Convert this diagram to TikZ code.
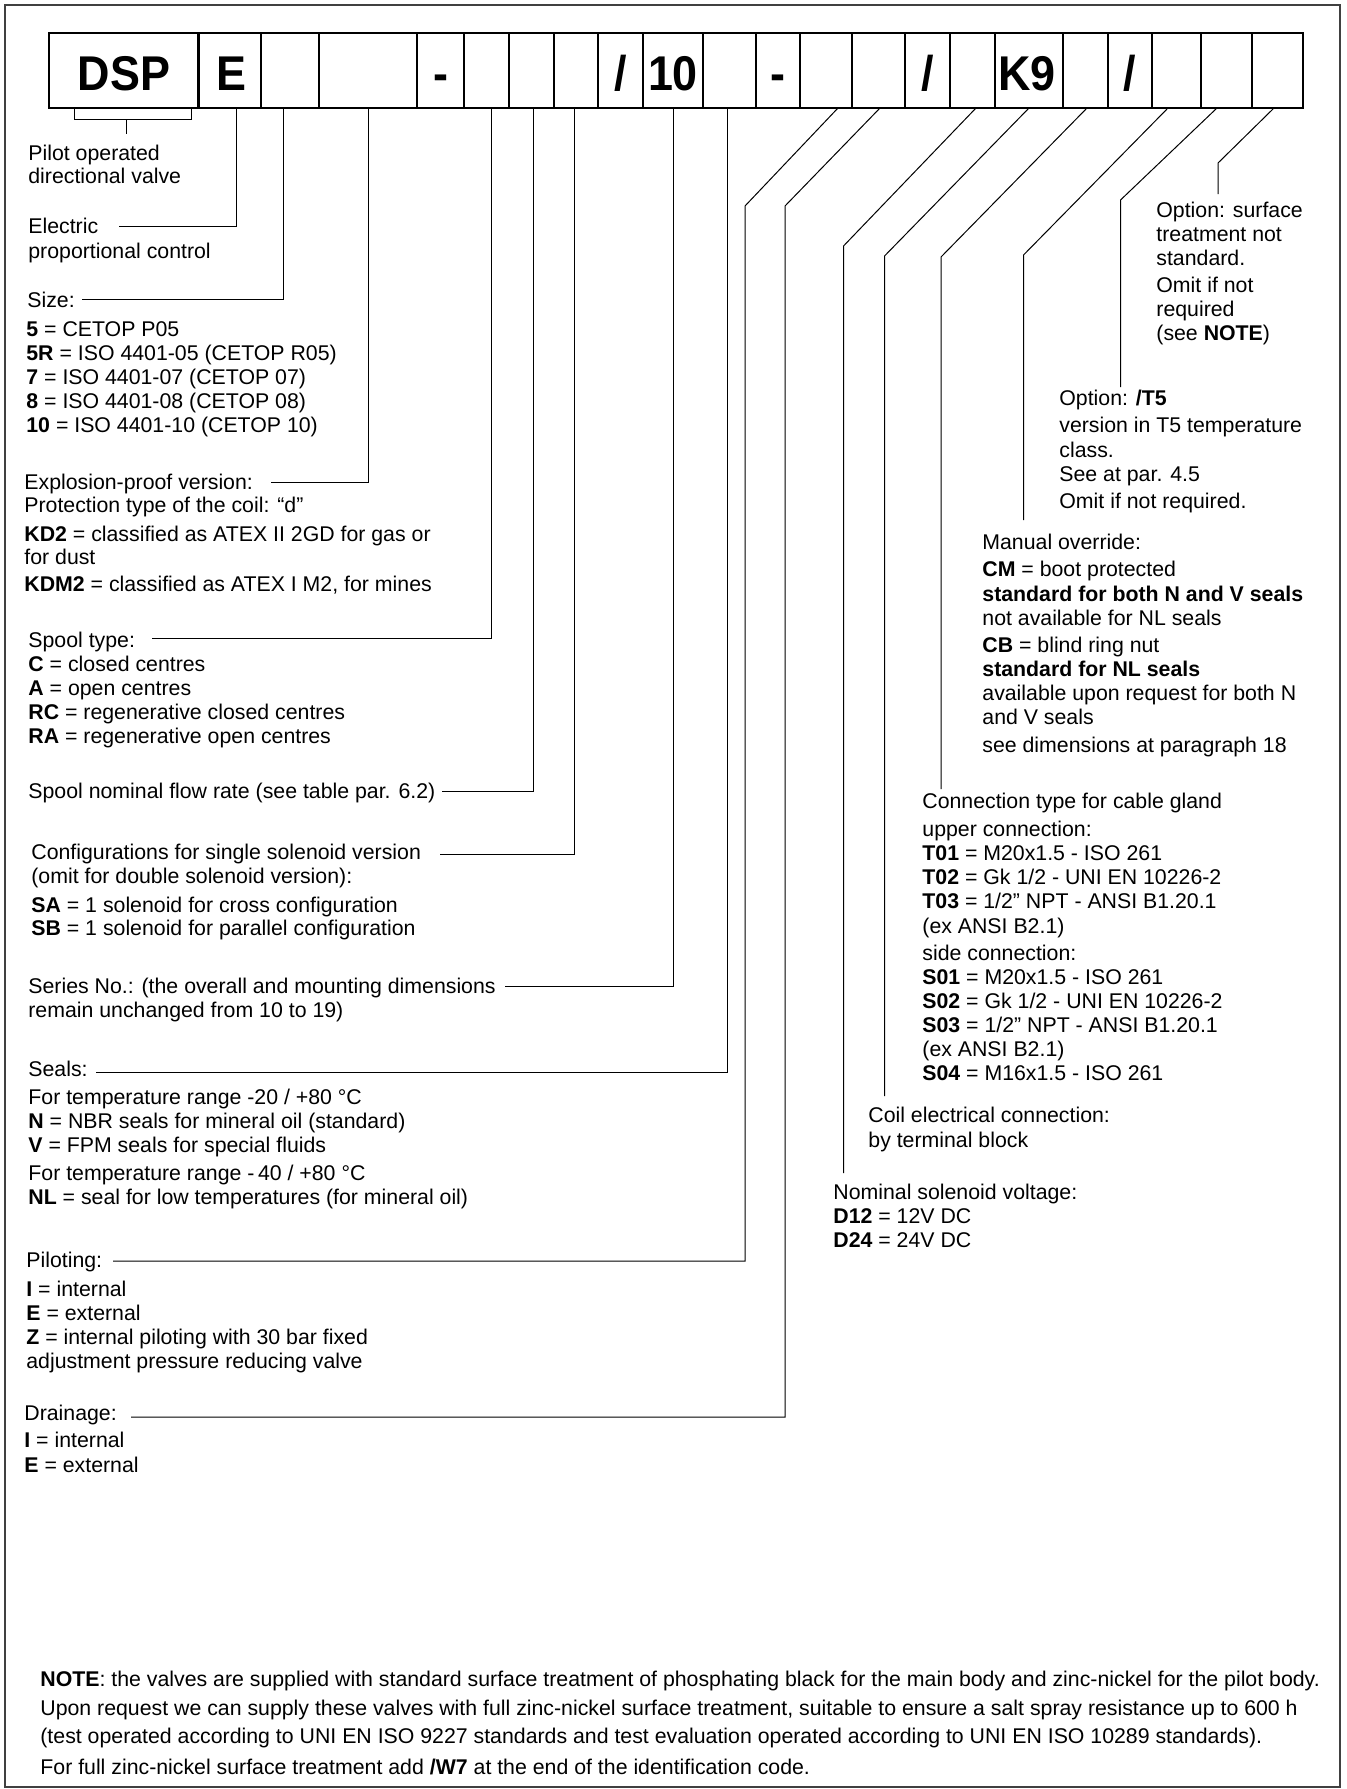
\documentclass[tikz,border=0pt]{standalone}
\usepackage{fontspec}
\setmainfont{Liberation Sans}
\newcommand\TL[4]{\node[txt] (#1) at (#2,#3) {#4};}
\newcommand\CellBox[3]{\node[cellbox, minimum width={(#3-#2)*0.5pt}] (#1) at ({(#2+#3)/2},70.5) {};}
\newcommand\BigT[3]{\node[big] (#1) at (#2,90) {\scalebox{0.92}[1]{#3}};}
\begin{document}
\begin{tikzpicture}[x=0.5pt,y=-0.5pt,
  txt/.style={anchor=base west, inner sep=0pt, font=\fontsize{10.65}{12}\selectfont},
  big/.style={anchor=base, inner sep=0pt, font=\fontsize{24.4}{28}\selectfont\bfseries},
  cellbox/.style={draw, line width=0.6pt, minimum height=37.5pt, inner sep=0pt},
  leader/.style={line width=0.5pt},
  frame/.style={draw=black!75, line width=1pt}]
\useasboundingbox (0,0) rectangle (1346,1789);
\draw[frame] (5,5) rectangle (1340,1787);

% ---- code cells
\CellBox{c1}{49}{197.5}
\CellBox{c2}{199}{261}
\CellBox{c3}{261}{319}
\CellBox{c4}{319}{417}
\CellBox{c5}{417}{464}
\CellBox{c6}{464}{509}
\CellBox{c7}{509}{554}
\CellBox{c8}{554}{598}
\CellBox{c9}{598}{643}
\CellBox{c10}{643}{703}
\CellBox{c11}{703}{756}
\CellBox{c12}{756}{800}
\CellBox{c13}{800}{852}
\CellBox{c14}{852}{905}
\CellBox{c15}{905}{950}
\CellBox{c16}{950}{995}
\CellBox{c17}{995}{1063}
\CellBox{c18}{1063}{1108}
\CellBox{c19}{1108}{1152}
\CellBox{c20}{1152}{1201}
\CellBox{c21}{1201}{1252}
\CellBox{c22}{1252}{1303}

\BigT{bDSP}{124}{DSP}
\BigT{bE}{231}{E}
\BigT{bD1}{440.5}{-}
\BigT{bS1}{620.5}{/}
\BigT{b10}{673}{10}
\BigT{bD2}{778}{-}
\BigT{bS2}{927.5}{/}
\BigT{bK9}{1027}{K9}
\BigT{bS3}{1130}{/}

% ---- left column texts
\TL{p1}{28}{160}{Pilot operated}
\TL{p2}{28}{183}{directional valve}
\TL{e1}{28}{233}{Electric}
\TL{e2}{28}{258}{proportional control}
\TL{s0}{27}{307}{Size:}
\TL{s1}{26}{336}{\textbf{5} = CETOP P05}
\TL{s2}{26}{360}{\textbf{5R} = ISO 4401-05 (CETOP R05)}
\TL{s3}{26}{384}{\textbf{7} = ISO 4401-07 (CETOP 07)}
\TL{s4}{26}{408}{\textbf{8} = ISO 4401-08 (CETOP 08)}
\TL{s5}{26}{432}{\textbf{10} = ISO 4401-10 (CETOP 10)}
\TL{x0}{24}{489}{Explosion-proof version:}
\TL{x1}{24}{512}{Protection type of the coil: “d”}
\TL{x2}{24}{541}{\textbf{KD2} = classified as ATEX II 2GD for gas or}
\TL{x3}{24}{564}{for dust}
\TL{x4}{24}{591}{\textbf{KDM2} = classified as ATEX I M2, for mines}
\TL{t0}{28}{647}{Spool type:}
\TL{t1}{28}{671}{\textbf{C} = closed centres}
\TL{t2}{28}{695}{\textbf{A} = open centres}
\TL{t3}{28}{719}{\textbf{RC} = regenerative closed centres}
\TL{t4}{28}{743}{\textbf{RA} = regenerative open centres}
\TL{f0}{28}{798}{Spool nominal flow rate (see table par. 6.2)}
\TL{g0}{31}{859}{Configurations for single solenoid version}
\TL{g1}{31}{883}{(omit for double solenoid version):}
\TL{g2}{31}{912}{\textbf{SA} = 1 solenoid for cross configuration}
\TL{g3}{31}{935}{\textbf{SB} = 1 solenoid for parallel configuration}
\TL{r0}{28}{993}{Series No.: (the overall and mounting dimensions}
\TL{r1}{28}{1017}{remain unchanged from 10 to 19)}
\TL{k0}{28}{1076}{Seals:}
\TL{k1}{28}{1104}{For temperature range -20 / +80 °C}
\TL{k2}{28}{1128}{\textbf{N} = NBR seals for mineral oil (standard)}
\TL{k3}{28}{1152}{\textbf{V} = FPM seals for special fluids}
\TL{k4}{28}{1180}{For temperature range -\,40 / +80 °C}
\TL{k5}{28}{1204}{\textbf{NL} = seal for low temperatures (for mineral oil)}
\TL{q0}{26}{1267}{Piloting:}
\TL{q1}{26}{1296}{\textbf{I} = internal}
\TL{q2}{26}{1320}{\textbf{E} = external}
\TL{q3}{26}{1344}{\textbf{Z} = internal piloting with 30 bar fixed}
\TL{q4}{26}{1368}{adjustment pressure reducing valve}
\TL{d0}{24}{1420}{Drainage:}
\TL{d1}{24}{1447}{\textbf{I} = internal}
\TL{d2}{24}{1472}{\textbf{E} = external}

% ---- right column texts
\TL{o1}{1156}{217}{Option: surface}
\TL{o2}{1156}{241}{treatment not}
\TL{o3}{1156}{265}{standard.}
\TL{o4}{1156}{292}{Omit if not}
\TL{o5}{1156}{316}{required}
\TL{o6}{1156}{340}{(see \textbf{NOTE})}
\TL{v1}{1059}{405}{Option: \textbf{/T5}}
\TL{v2}{1059}{432}{version in T5 temperature}
\TL{v3}{1059}{457}{class.}
\TL{v4}{1059}{481}{See at par. 4.5}
\TL{v5}{1059}{508}{Omit if not required.}
\TL{m0}{982}{549}{Manual override:}
\TL{m1}{982}{576}{\textbf{CM} = boot protected}
\TL{m2}{982}{601}{\textbf{standard for both N and V seals}}
\TL{m3}{982}{625}{not available for NL seals}
\TL{m4}{982}{652}{\textbf{CB} = blind ring nut}
\TL{m5}{982}{676}{\textbf{standard for NL seals}}
\TL{m6}{982}{700}{available upon request for both N}
\TL{m7}{982}{724}{and V seals}
\TL{m8}{982}{752}{see dimensions at paragraph 18}
\TL{n0}{922}{808}{Connection type for cable gland}
\TL{n1}{922}{836}{upper connection:}
\TL{n2}{922}{860}{\textbf{T01} = M20x1.5 - ISO 261}
\TL{n3}{922}{884}{\textbf{T02} = Gk 1/2 - UNI EN 10226-2}
\TL{n4}{922}{908}{\textbf{T03} = 1/2” NPT - ANSI B1.20.1}
\TL{n5}{922}{933}{(ex ANSI B2.1)}
\TL{n6}{922}{960}{side connection:}
\TL{n7}{922}{984}{\textbf{S01} = M20x1.5 - ISO 261}
\TL{n8}{922}{1008}{\textbf{S02} = Gk 1/2 - UNI EN 10226-2}
\TL{n9}{922}{1032}{\textbf{S03} = 1/2” NPT - ANSI B1.20.1}
\TL{n10}{922}{1056}{(ex ANSI B2.1)}
\TL{n11}{922}{1080}{\textbf{S04} = M16x1.5 - ISO 261}
\TL{w0}{868}{1122}{Coil electrical connection:}
\TL{w1}{868}{1147}{by terminal block}
\TL{u0}{833}{1199}{Nominal solenoid voltage:}
\TL{u1}{833}{1223}{\textbf{D12} = 12V DC}
\TL{u2}{833}{1247}{\textbf{D24} = 24V DC}

% ---- note
\TL{z1}{40}{1686}{\textbf{NOTE}: the valves are supplied with standard surface treatment of phosphating black for the main body and zinc-nickel for the pilot body.}
\TL{z2}{40}{1715}{Upon request we can supply these valves with full zinc-nickel surface treatment, suitable to ensure a salt spray resistance up to 600 h}
\TL{z3}{40}{1743}{(test operated according to UNI EN ISO 9227 standards and test evaluation operated according to UNI EN ISO 10289 standards).}
\TL{z4}{40}{1774}{For full zinc-nickel surface treatment add \textbf{/W7} at the end of the identification code.}

% ---- leader coordinates
\coordinate (L1a) at (74.3,108); \coordinate (L1b) at (191,108);
\coordinate (L1m) at (126.7,119); \coordinate (L1e) at (126.7,134);
\coordinate (L2a) at (236,108); \coordinate (L2e) at (119,226);
\coordinate (L3a) at (283,108); \coordinate (L3e) at (82,299);
\coordinate (L4a) at (368,108); \coordinate (L4e) at (271,482);
\coordinate (L5a) at (491,108); \coordinate (L5e) at (152,638);
\coordinate (L6a) at (533,108); \coordinate (L6e) at (442,791);
\coordinate (L7a) at (574,108); \coordinate (L7e) at (440,854);
\coordinate (L8a) at (673,108); \coordinate (L8e) at (505,986);
\coordinate (L9a) at (727,108); \coordinate (L9e) at (96,1072);
\coordinate (L10a) at (838,108); \coordinate (L10k) at (745,206);
\coordinate (L10e) at (113,1261);
\coordinate (L11a) at (880,108); \coordinate (L11k) at (785,206);
\coordinate (L11e) at (131,1417);
\coordinate (L12a) at (976,108); \coordinate (L12k) at (843.5,246);
\coordinate (L12e) at (843.5,1173);
\coordinate (L13a) at (1029,108); \coordinate (L13k) at (884.5,256);
\coordinate (L13e) at (884.5,1096);
\coordinate (L14a) at (1087,108); \coordinate (L14k) at (941,257);
\coordinate (L14e) at (941,789);
\coordinate (L15a) at (1168,108); \coordinate (L15k) at (1023.5,255);
\coordinate (L15e) at (1023.5,520);
\coordinate (L16a) at (1217,108); \coordinate (L16k) at (1120.5,200);
\coordinate (L16e) at (1120.5,387);
\coordinate (L17a) at (1274,108); \coordinate (L17k) at (1218,163);
\coordinate (L17e) at (1218,194);

\draw[leader] (L1a) -- (L1a |- L1m) -- (L1b |- L1m) -- (L1b);
\draw[leader] (L1m) -- (L1e);
\draw[leader] (L2a) |- (L2e);
\draw[leader] (L3a) |- (L3e);
\draw[leader] (L4a) |- (L4e);
\draw[leader] (L5a) |- (L5e);
\draw[leader] (L6a) |- (L6e);
\draw[leader] (L7a) |- (L7e);
\draw[leader] (L8a) |- (L8e);
\draw[leader] (L9a) |- (L9e);
\draw[leader] (L10a) -- (L10k) |- (L10e);
\draw[leader] (L11a) -- (L11k) |- (L11e);
\draw[leader] (L12a) -- (L12k) -- (L12e);
\draw[leader] (L13a) -- (L13k) -- (L13e);
\draw[leader] (L14a) -- (L14k) -- (L14e);
\draw[leader] (L15a) -- (L15k) -- (L15e);
\draw[leader] (L16a) -- (L16k) -- (L16e);
\draw[leader] (L17a) -- (L17k) -- (L17e);
\end{tikzpicture}
\end{document}
